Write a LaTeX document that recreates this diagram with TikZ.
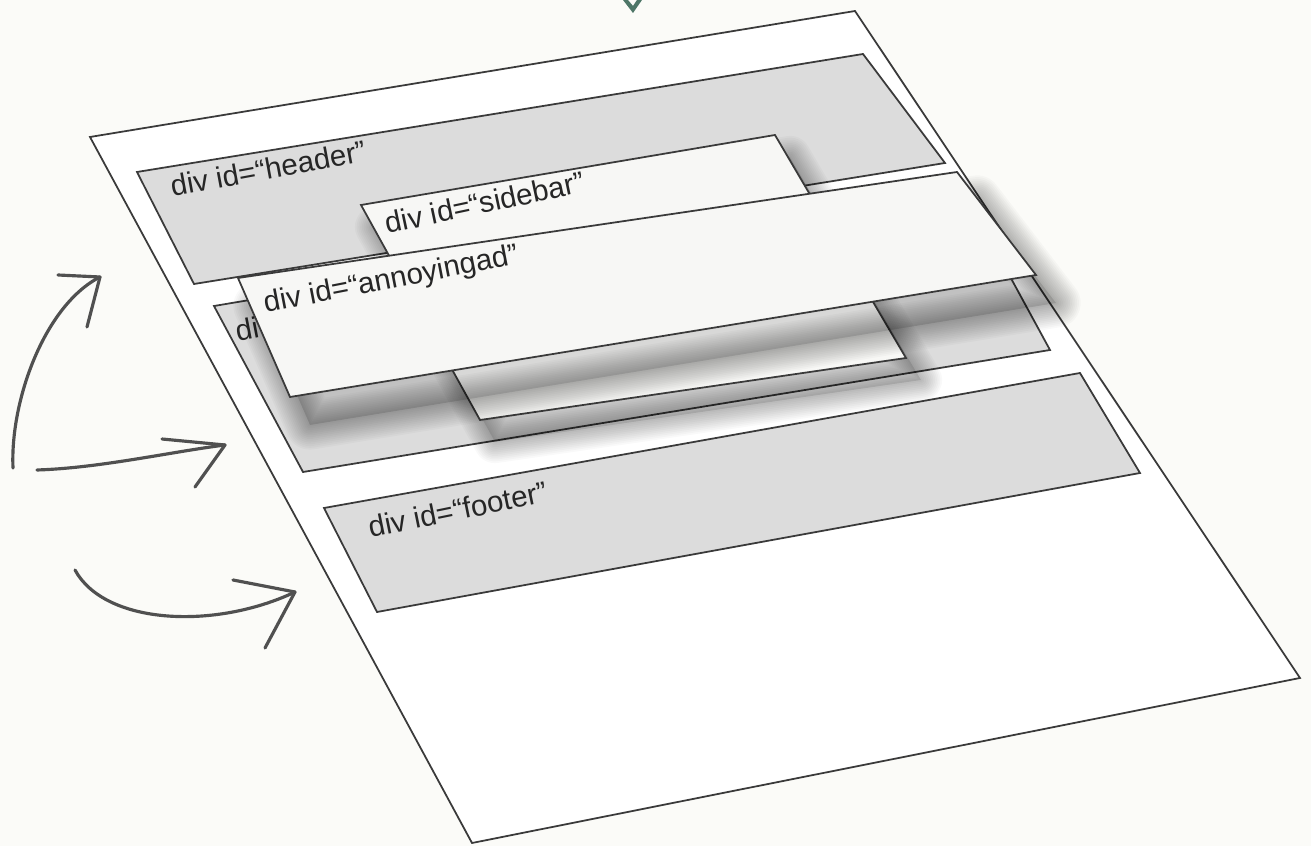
\documentclass[tikz,border=0pt]{standalone}
\usepackage{fontspec}
\setmainfont{Liberation Sans}
\usetikzlibrary{positioning}

\definecolor{paper}{HTML}{FBFBF8}
\definecolor{boxgray}{HTML}{DCDCDC}
\definecolor{layerwhite}{HTML}{F7F7F5}
\definecolor{inkline}{HTML}{3A3A3A}
\definecolor{penline}{HTML}{505050}
\definecolor{iconcol}{HTML}{4E7668}

\tikzset{
  pagebox/.style={draw=inkline, line width=0.5pt, fill=white},
  divbox/.style={draw=inkline, line width=0.5pt, fill=boxgray},
  layerbox/.style={draw=inkline, line width=0.5pt, fill=layerwhite},
  shadowstroke/.style={draw=black, fill=none, opacity=0.022, line join=round},
  divlabel/.style={anchor=base west, inner sep=0pt, text=black!85,
    font=\fontsize{8.4}{10}\selectfont},
  pen/.style={draw=penline, line width=0.9pt, line cap=round, line join=round}
}

\begin{document}
\begin{tikzpicture}[x=0.01cm, y=-0.01cm]
			\useasboundingbox (0,0) rectangle (1311,846);
			\fill[paper] (0,0) rectangle (1311,846);

			% the page and its three grey divs
			\draw[pagebox] (90,137) -- (855,11) -- (1300,678) -- (472,843) -- cycle;
			\draw[divbox] (137,172) -- (863,54) -- (945,163) -- (194,284) -- cycle;
			\draw[divbox] (214,306) -- (958,181) -- (1050,350) -- (303,472) -- cycle;
			\draw[divbox] (324,508) -- (1080,373) -- (1140,473) -- (377,612) -- cycle;

			\node[divlabel, rotate=10.5] (header) at (172,197) {div id=“header”};
			\node[divlabel, rotate=11] (content) at (237,342) {di};
			\node[divlabel, rotate=11.5] (footer) at (370,538) {div id=“footer”};

			% sidebar, lifted off the page
			\fill[black, opacity=0.10] (376,227) -- (790,157) -- (921,380) -- (495,442) -- cycle;
			\foreach \w in {1,2,...,12}
				\draw[shadowstroke, line width=\w pt] (376,227) -- (790,157) -- (921,380) -- (495,442) -- cycle;
			\draw[layerbox] (361,205) -- (775,135) -- (906,358) -- (480,420) -- cycle;
			\node[divlabel, rotate=12] (sidebar) at (387,234) {div id=“sidebar”};

			% annoyingad, on top of everything
			\fill[black, opacity=0.12] (258,306) -- (977,200) -- (1056,303) -- (310,425) -- cycle;
			\foreach \w in {1,2,...,14}
				\draw[shadowstroke, line width=\w pt] (258,306) -- (977,200) -- (1056,303) -- (310,425) -- cycle;
			\draw[layerbox] (238,278) -- (957,172) -- (1036,275) -- (290,397) -- cycle;
			\node[divlabel, rotate=11] (annoyingad) at (265,313) {div id=“annoyingad”};

			% hand drawn arrows
			\coordinate (a1s) at (13,468);
			\coordinate (a1t) at (100,277);
			\coordinate (a2s) at (37,470);
			\coordinate (a2t) at (225,445);
			\coordinate (a3s) at (75,570);
			\coordinate (a3t) at (295,592);

			\draw[pen] (a1s) .. controls (10,400) and (45,305) .. (a1t);
			\draw[pen] (a1t) -- ++(-42,-2) (a1t) -- ++(-13,50);
			\draw[pen] (a2s) .. controls (100,468) and (170,452) .. (a2t);
			\draw[pen] (a2t) -- ++(-63,-6) (a2t) -- ++(-30,42);
			\draw[pen] (a3s) .. controls (105,625) and (215,630) .. (a3t);
			\draw[pen] (a3t) -- ++(-62,-12) (a3t) -- ++(-30,56);

			% bit of an icon cut off at the top
			\fill[iconcol] (623,0) -- (633,13) -- (642,0) -- (637,0) -- (633,6) -- (628,0) -- cycle;

		\end{tikzpicture}
\end{document}
